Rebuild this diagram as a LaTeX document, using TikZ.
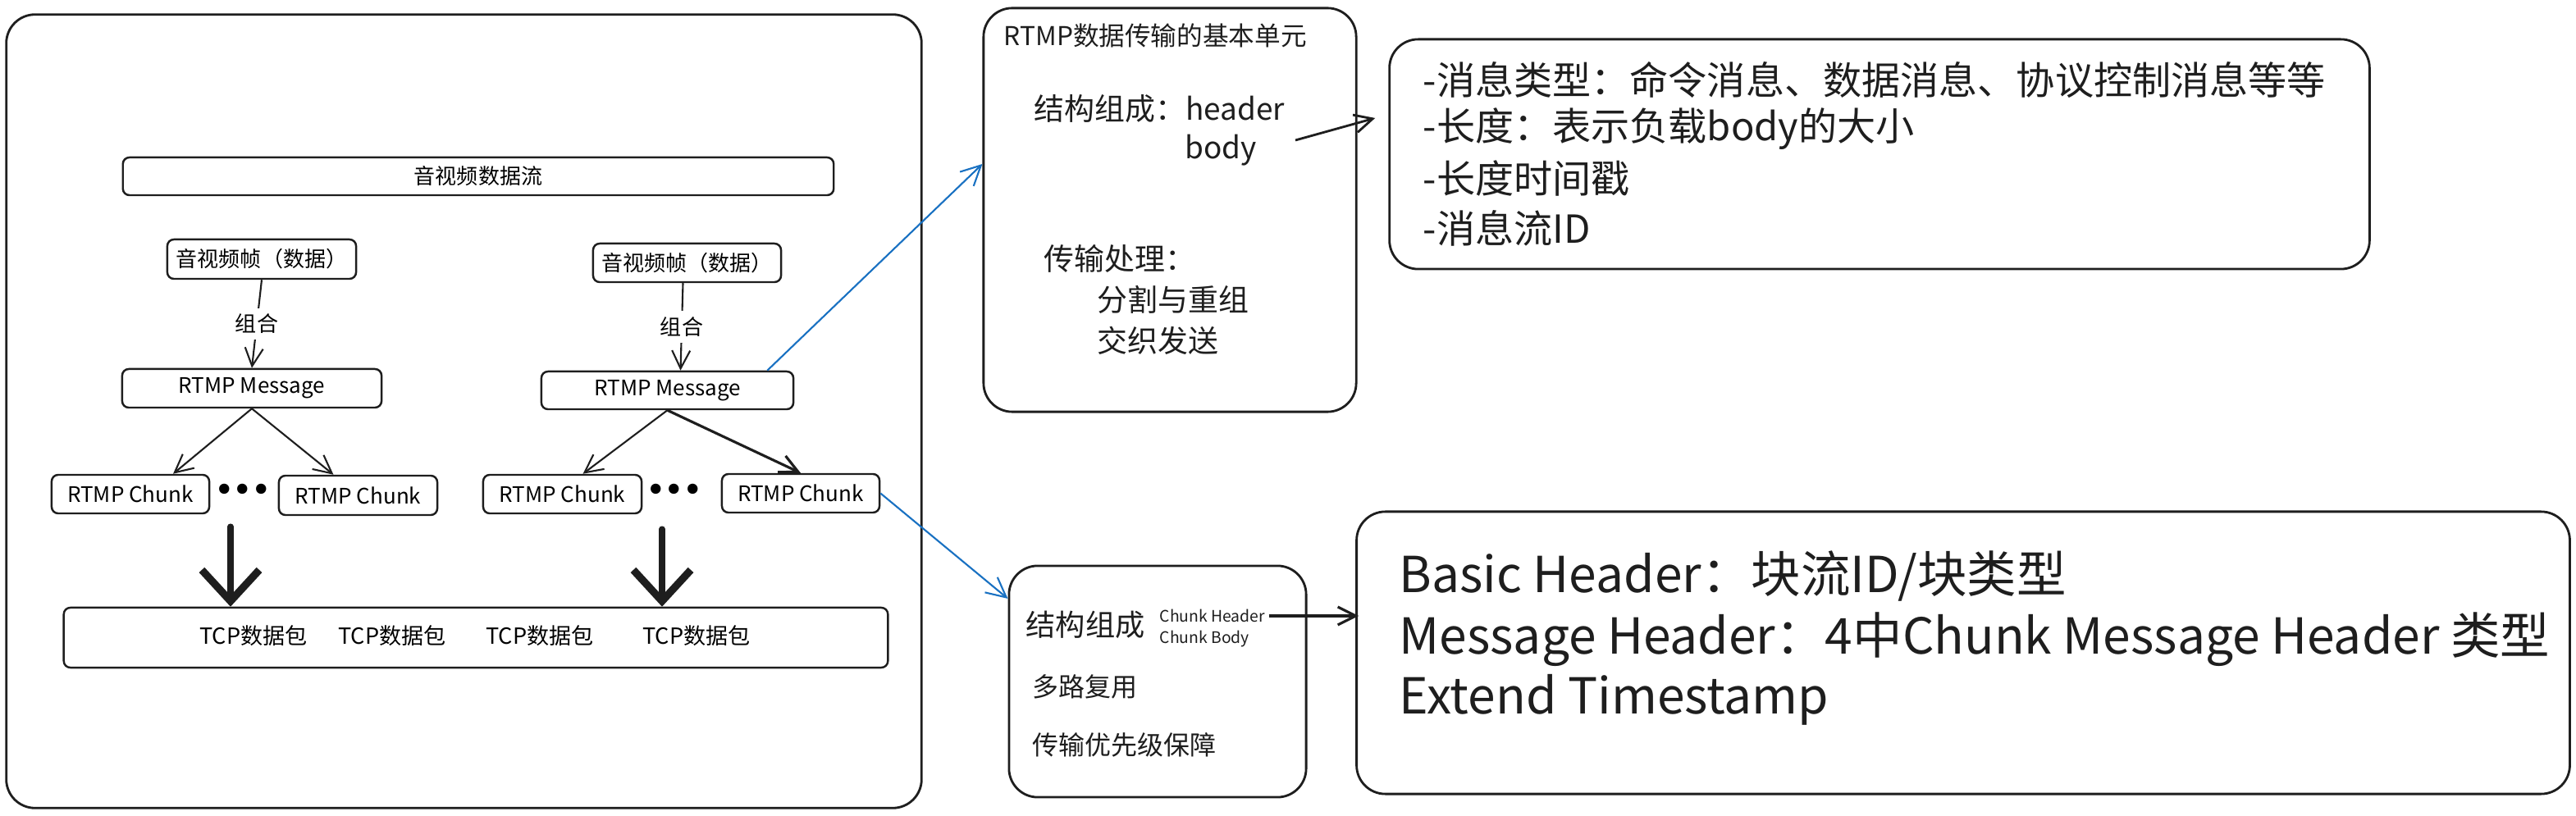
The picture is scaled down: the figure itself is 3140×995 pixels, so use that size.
\documentclass[tikz,border=0pt]{standalone}
\usepackage{fontspec}
\setmainfont{Noto Sans CJK SC}
\newfontfamily\dotfont{DejaVu Sans}
\usetikzlibrary{arrows.meta}
\definecolor{ink}{HTML}{1E1E1E}
\definecolor{exblue}{HTML}{1971C2}
\begin{document}
\begin{tikzpicture}[x=0.01cm,y=-0.01cm,
  box/.style={draw=ink, line width=0.7pt, rounded corners=0.08cm, inner sep=0pt, align=center,
              font=\fontsize{7.4pt}{9pt}\selectfont},
  bigbox/.style={draw=ink, line width=0.8pt, rounded corners=0.35cm, inner sep=0pt},
  lbl/.style={inner sep=0pt, anchor=west, text=ink},
  arr/.style={draw=ink, line width=0.6pt, -{Straight Barb[length=0.22cm,width=0.22cm]}},
  thickarr/.style={draw=ink, line width=2pt, line cap=round, -{Straight Barb[length=0.38cm,width=0.70cm,line width=2.6pt]}},
  bluearr/.style={draw=exblue, line width=0.6pt, -{Straight Barb[length=0.24cm,width=0.24cm]}},
  fA/.style={font=\fontsize{7.4pt}{9pt}\selectfont},
  fT/.style={font=\fontsize{7.7pt}{9pt}\selectfont},
  fB/.style={font=\fontsize{10.5pt}{12pt}\selectfont},
  fC/.style={font=\fontsize{13.4pt}{16pt}\selectfont},
  fD/.style={font=\fontsize{17.2pt}{21pt}\selectfont},
  fS/.style={font=\fontsize{5.5pt}{6.5pt}\selectfont},
  dots/.style={inner sep=0pt, font=\dotfont\bfseries\fontsize{10pt}{10pt}\selectfont},
]
\fill[white] (0,0) rectangle (3140,995);
\useasboundingbox (0,0) rectangle (3140,995);

% left big container
\node[bigbox, minimum width=11.15cm, minimum height=9.67cm] (outer) at (565.5,501.5) {};
\node[box, minimum width=8.66cm, minimum height=0.46cm] (bar) at (583,215) {音视频数据流};
\node[box, minimum width=2.30cm, minimum height=0.48cm] (f1) at (319,316) {音视频帧（数据）};
\node[box, minimum width=2.29cm, minimum height=0.47cm] (f2) at (837.5,320.5) {音视频帧（数据）};
\node[box, minimum width=3.16cm, minimum height=0.47cm] (msg1) at (307,473.5) {RTMP Message};
\node[box, minimum width=3.07cm, minimum height=0.46cm] (msg2) at (813.5,476) {RTMP Message};
\node[box, minimum width=1.92cm, minimum height=0.47cm] (c1) at (159,602.5) {RTMP Chunk};
\node[box, minimum width=1.93cm, minimum height=0.48cm] (c2) at (436.5,604) {RTMP Chunk};
\node[box, minimum width=1.93cm, minimum height=0.47cm] (c3) at (685.5,602.5) {RTMP Chunk};
\node[box, minimum width=1.92cm, minimum height=0.47cm] (c4) at (976,601.5) {RTMP Chunk};
\node[dots] (d1) at (296,600) {•••};
\node[dots] (d2) at (822,600) {•••};
\node[box, minimum width=10.04cm, minimum height=0.73cm] (tcp) at (580,777.5) {};
\node[fT, inner sep=0pt] (t1) at (309,775) {TCP数据包};
\node[fT, inner sep=0pt] (t2) at (478,775) {TCP数据包};
\node[fT, inner sep=0pt] (t3) at (658,775) {TCP数据包};
\node[fT, inner sep=0pt] (t4) at (849,775) {TCP数据包};

% connectors on the left
\draw[arr] (f1.south) -- node[fill=white, fA, inner sep=2pt] (z1) {组合} (msg1.north);
\draw[arr] ([xshift=-0.05cm]f2.south) -- node[fill=white, fA, inner sep=2pt] (z2) {组合} ([xshift=0.16cm]msg2.north);
\draw[arr] (msg1.south) -- ([xshift=0.52cm]c1.north);
\draw[arr] (msg1.south) -- ([xshift=-0.30cm]c2.north);
\draw[arr] (msg2.south) -- ([xshift=0.25cm]c3.north);
\draw[arr, line width=0.9pt] (msg2.south) -- (c4.north);
\coordinate (k1) at (281,642);
\coordinate (k2) at (807,645);
\draw[thickarr] (k1) -- (k1 |- tcp.north);
\draw[thickarr] (k2) -- (k2 |- tcp.north);

% RTMP message box
\node[bigbox, minimum width=4.54cm, minimum height=4.92cm] (box3) at (1426,256) {};
\node[lbl, font=\fontsize{9pt}{10pt}\selectfont] (b3t) at (1223,43) {RTMP数据传输的基本单元};
\node[lbl, fB] (b3a) at (1260,133) {结构组成：header};
\node[lbl, fB] (b3b) at (1444,183) {body};
\node[lbl, fB] (b3c) at (1272,315) {传输处理：};
\node[lbl, fB] (b3d) at (1337,365) {分割与重组};
\node[lbl, fB] (b3e) at (1337,415) {交织发送};

% message header details
\node[bigbox, minimum width=11.94cm, minimum height=2.80cm] (box4) at (2291,188) {};
\node[lbl, fC] (l1) at (1734,97) {-消息类型：命令消息、数据消息、协议控制消息等等};
\node[lbl, fC] (l2) at (1734,157) {-长度：表示负载body的大小};
\node[lbl, fC] (l3) at (1734,217) {-长度时间戳};
\node[lbl, fC] (l4) at (1734,278) {-消息流ID};
\coordinate (a1) at (1579,171);
\draw[arr, line width=0.8pt] (a1) -- ([xshift=-0.16cm,yshift=0.44cm]box4.west);

% RTMP chunk box
\node[bigbox, minimum width=3.62cm, minimum height=2.82cm] (box5) at (1411,831) {};
\node[lbl, font=\fontsize{10.3pt}{12pt}\selectfont] (b5a) at (1250,762) {结构组成};
\node[lbl, fS] (b5h) at (1413,751) {Chunk Header};
\node[lbl, fS] (b5b) at (1413,779) {Chunk Body};
\node[lbl, font=\fontsize{9.1pt}{11pt}\selectfont] (b5c) at (1258,837) {多路复用};
\node[lbl, font=\fontsize{9.1pt}{11pt}\selectfont] (b5d) at (1258,908) {传输优先级保障};

% chunk header details
\node[bigbox, minimum width=14.78cm, minimum height=3.44cm] (box6) at (2393,796) {};
\node[lbl, fD] (m1) at (1705,703) {Basic Header：块流ID/块类型};
\node[lbl, fD] (m2) at (1705,780) {Message Header：4中Chunk Message Header 类型};
\node[lbl, fD] (m3) at (1705,853) {Extend Timestamp};
\draw[arr, line width=0.9pt] ([xshift=0.04cm]b5h.east) -- ([xshift=0.04cm]b5h.east -| box6.west);

% blue connectors
\draw[bluearr] ([xshift=-0.33cm]msg2.north east) -- ([yshift=0.56cm]box3.west);
\draw[bluearr] (c4.east) -- ([yshift=1.01cm]box5.west);
\end{tikzpicture}
\end{document}
